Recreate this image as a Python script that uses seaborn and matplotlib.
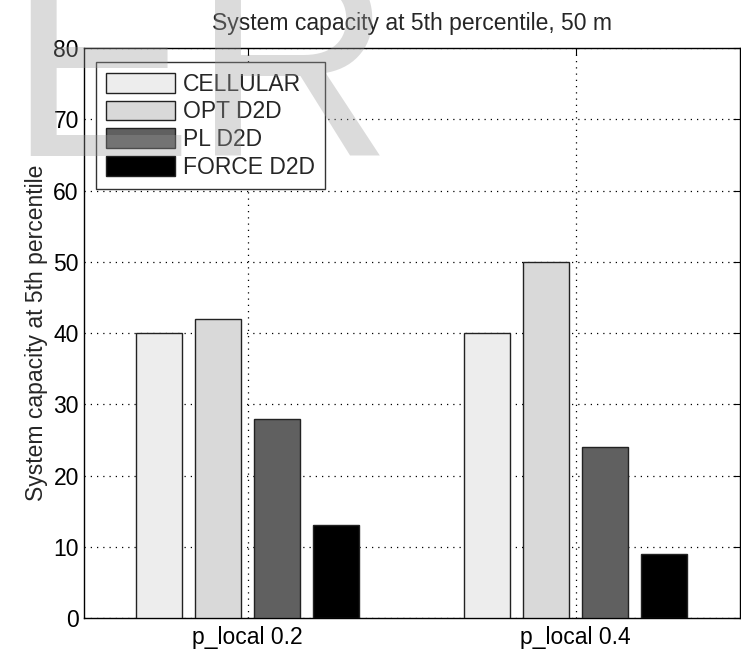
import pandas as pd
import matplotlib.pyplot as plt
import seaborn as sns

# values
groups = ['p_local 0.2', 'p_local 0.4']
schemes = ['CELLULAR', 'OPT D2D', 'PL D2D', 'FORCE D2D']
cellular = [40, 40]
opt_d2d = [42, 50]
pl_d2d = [28, 24]
force_d2d = [13, 9]
colors = ['#ededed', '#d9d9d9', '#606060', '#000000']
yticks = [0, 10, 20, 30, 40, 50, 60, 70, 80]

rows = []
for name, vals in zip(schemes, [cellular, opt_d2d, pl_d2d, force_d2d]):
    for g, v in zip(groups, vals):
        rows.append({'group': g, 'scheme': name, 'value': v})
df = pd.DataFrame(rows)

sns.set_style('white')
plt.rcParams['font.family'] = ['Liberation Sans', 'DejaVu Sans']

fig = plt.figure(figsize=(7.41, 6.52), dpi=100)
ax = fig.add_axes([0.113, 0.052, 0.885, 0.874])

sns.barplot(data=df, x='group', y='value', hue='scheme', order=groups,
            hue_order=schemes, palette=colors, width=0.72, gap=0.22,
            edgecolor='#222222', linewidth=1.0, ax=ax, zorder=3)

ax.set_xlim(-0.5, 1.5)
ax.set_ylim(0, 80)
ax.set_yticks(yticks)
ax.set_xlabel('')
ax.set_ylabel('System capacity at 5th percentile', fontsize=16.5, labelpad=4)
ax.set_title('System capacity at 5th percentile, 50 m', fontsize=16.5, pad=13)
ax.tick_params(axis='both', direction='in', top=True, right=True,
               length=5, labelsize=16.5, colors='black')
ax.tick_params(axis='x', pad=6)
ax.grid(True, linestyle=(0, (1, 4)), color='black', linewidth=0.9, zorder=1)
for s in ax.spines.values():
    s.set_visible(True)
    s.set_color('black')
    s.set_linewidth(1.0)

leg = ax.legend(loc='upper left', bbox_to_anchor=(0.018, 0.975), borderaxespad=0,
                fontsize=16.5, frameon=True, fancybox=False, framealpha=1,
                edgecolor='#333333', handlelength=3.0, handleheight=0.95,
                labelspacing=0.2, handletextpad=0.35, borderpad=0.45)
leg.get_frame().set_linewidth(1.0)
leg.set_zorder(5)

# light watermark letters at top left
fig.text(0.01, 0.76, 'ER', fontsize=200, color='#999999', alpha=0.35,
         ha='left', va='baseline', zorder=10)

plt.savefig('out.png', dpi=100)
plt.close()
